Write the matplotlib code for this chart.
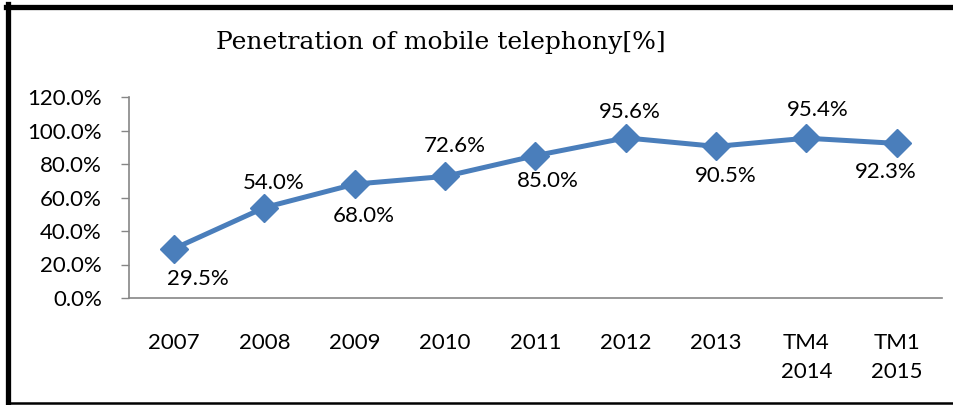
import matplotlib
matplotlib.use("Agg")
import matplotlib.pyplot as plt
from matplotlib.lines import Line2D

categories = ["2007", "2008", "2009", "2010", "2011", "2012", "2013", "TM4\n2014", "TM1\n2015"]
values = [29.5, 54.0, 68.0, 72.6, 85.0, 95.6, 90.5, 95.4, 92.3]
yticks = [0, 20, 40, 60, 80, 100, 120]
title = "Penetration of mobile telephony[%]"

# data-label offsets from each point (pixels, right / up)
label_dx = [24, 9, 9, 10, 12, 4, 10, 11, -11]
label_dy = [-30, 25, -32, 30, -25, 26, -30, 28, -29]

W, H = 954, 405
fig = plt.figure(figsize=(W / 100, H / 100), dpi=100)
ax = fig.add_axes([129 / W, 1 - 298 / H, (942 - 129) / W, (298 - 97) / H])

x = list(range(len(categories)))
color = "#4A7EBB"
ax.plot(x, values, color=color, lw=3.6, marker="D", markersize=14, zorder=3)
ax.set_xlim(-0.5, len(categories) - 0.5)
ax.set_ylim(0, 120)
ax.set_yticks(yticks)
ax.set_yticklabels([f"{v:.1f}%" for v in yticks])
ax.set_xticks(x)
ax.set_xticklabels(categories, linespacing=1.56)

tick_font = "Lato"
fs = 16
for lab in ax.get_yticklabels() + ax.get_xticklabels():
    lab.set_fontfamily(tick_font)
    lab.set_fontsize(fs)
    lab.set_color("black")

ax.tick_params(axis="y", length=6, width=1, color="#868686", pad=13.5)
ax.tick_params(axis="x", length=0, pad=25)
for s in ["top", "right"]:
    ax.spines[s].set_visible(False)
for s in ["left", "bottom"]:
    ax.spines[s].set_color("#868686")
    ax.spines[s].set_linewidth(1.2)

for xi, v, dx, dy in zip(x, values, label_dx, label_dy):
    ax.annotate(f"{v:.1f}%", (xi, v), xytext=(dx * 0.72, dy * 0.72),
                textcoords="offset points", ha="center", va="center",
                fontsize=fs, fontfamily=tick_font)

fig.text(441 / W, 1 - 42 / H, title, ha="center", va="center",
         fontsize=18, fontfamily="DejaVu Serif")

# border
fig.add_artist(Line2D([6.5 / W, 1], [1 - 6.5 / H, 1 - 6.5 / H], color="black", lw=3.8,
                      transform=fig.transFigure))
fig.add_artist(Line2D([8.5 / W, 8.5 / W], [1 - 4 / H, 0], color="black", lw=3.8,
                      transform=fig.transFigure))
fig.add_artist(Line2D([8 / W, 1], [1 - 403 / H, 1 - 403 / H], color="black", lw=1.8,
                      transform=fig.transFigure))

fig.savefig("out.png", dpi=100)
